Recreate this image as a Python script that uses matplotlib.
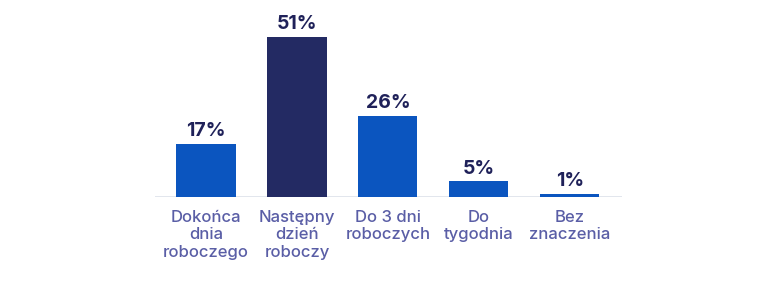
import matplotlib.pyplot as plt

# data
categories = ["Dokońca\ndnia\nroboczego", "Następny\ndzień\nroboczy", "Do 3 dni\nroboczych",
              "Do\ntygodnia", "Bez\nznaczenia"]
values = [17, 51, 26, 5, 1]
value_labels = ["17%", "51%", "26%", "5%", "1%"]

blue = "#0b55bf"
navy = "#232a63"
colors = [blue, navy, blue, blue, blue]

fig = plt.figure(figsize=(7.83, 2.81), dpi=100)
ax = fig.add_axes([0.198, 0.299, 0.596, 0.669])

x = list(range(len(values)))
bars = ax.bar(x, values, width=0.65, color=colors)

for xi, v, lab in zip(x, values, value_labels):
    ax.text(xi, v + 1.2, lab, ha="center", va="bottom", fontsize=14,
            fontweight="bold", color="#1f2159", family="Inter")

for xi, cat in zip(x, categories):
    ax.text(xi, -4.0, cat, ha="center", va="top", fontsize=12,
            fontweight="medium", color="#5a5ea6", family="Inter", linespacing=1.22)

ax.set_xlim(-0.56, 4.57)
ax.set_ylim(0, 60)
ax.axhline(0, color="#dde1ea", lw=1.2, zorder=0)
ax.axis("off")

fig.savefig("out.png", dpi=100)
